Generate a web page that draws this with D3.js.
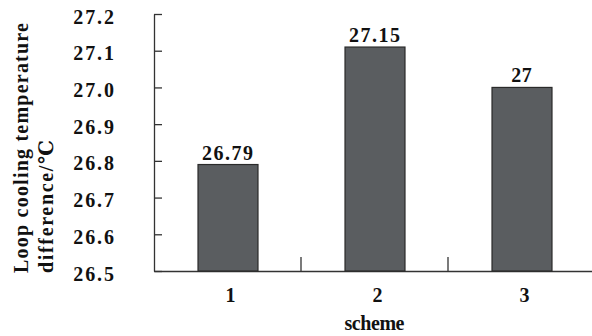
<!DOCTYPE html>
<html>
<head>
<meta charset="utf-8">
<script src="https://cdn.jsdelivr.net/npm/d3@7"></script>
<style>
  body { margin: 0; background: #fff; }
  text { font-family: "Liberation Serif", "DejaVu Serif", serif; font-weight: bold; fill: #111; }
</style>
</head>
<body>
<script>
const schemes = ["1", "2", "3"];
const barValues = [26.79, 27.11, 27.0];
const barLabels = ["26.79", "27.15", "27"];
const yTicks = [26.5, 26.6, 26.7, 26.8, 26.9, 27.0, 27.1, 27.2];

const width = 592, height = 336;
const margin = {top: 14, right: -3, bottom: 65, left: 154};
const charW = 10.2;

const svg = d3.select("body").append("svg")
    .attr("width", width)
    .attr("height", height);

const x = d3.scaleBand()
    .domain(schemes)
    .range([margin.left, width - margin.right])
    .paddingInner(0.592)
    .paddingOuter(0.296);

const y = d3.scaleLinear()
    .domain([26.5, 27.2])
    .range([height - margin.bottom, margin.top]);

// y axis, ticks pointing into the plot
const yAxis = svg.append("g")
    .attr("transform", "translate(" + margin.left + ",0)")
    .call(d3.axisLeft(y).tickValues(yTicks).tickSizeInner(-8).tickSizeOuter(0)
        .tickPadding(40).tickFormat(d3.format(".1f")));
yAxis.select(".domain").attr("stroke", "#333").attr("stroke-width", 1.3);
yAxis.selectAll(".tick line").attr("stroke", "#333").attr("stroke-width", 1.3);
yAxis.selectAll(".tick text")
    .attr("font-size", 20)
    .attr("dy", "0.45em")
    .attr("textLength", function() { return this.textContent.length * charW; })
    .attr("lengthAdjust", "spacing")
    .style("font-family", null);

// x axis
const xAxis = svg.append("g")
    .attr("transform", "translate(0," + y(26.5) + ")")
    .call(d3.axisBottom(x).tickSize(0).tickPadding(17));
xAxis.select(".domain").attr("stroke", "#333").attr("stroke-width", 1.3);
xAxis.selectAll(".tick text")
    .attr("font-size", 20)
    .attr("dx", 3)
    .style("font-family", null);

// separators between categories
svg.append("g")
  .selectAll("line")
  .data(schemes.slice(0, -1))
  .join("line")
    .attr("x1", d => x(d) + x.bandwidth() / 2 + x.step() / 2)
    .attr("x2", d => x(d) + x.bandwidth() / 2 + x.step() / 2)
    .attr("y1", y(26.5))
    .attr("y2", y(26.5) - 14)
    .attr("stroke", "#333")
    .attr("stroke-width", 1.3);

// bars
svg.append("g")
  .selectAll("rect")
  .data(barValues)
  .join("rect")
    .attr("x", (d, i) => x(schemes[i]) + 0.5)
    .attr("y", d => y(d))
    .attr("width", x.bandwidth())
    .attr("height", d => y(26.5) - y(d))
    .attr("fill", "#5a5d60")
    .attr("stroke", "#2a2a2a")
    .attr("stroke-width", 1.2);

// value labels
svg.append("g")
  .selectAll("text")
  .data(barValues)
  .join("text")
    .attr("x", (d, i) => x(schemes[i]) + x.bandwidth() / 2)
    .attr("y", d => y(d) - 5)
    .attr("text-anchor", "middle")
    .attr("font-size", 20)
    .attr("textLength", (d, i) => barLabels[i].length * charW)
    .attr("lengthAdjust", "spacing")
    .text((d, i) => barLabels[i]);

// axis titles
svg.append("text")
    .attr("x", (margin.left + width - margin.right) / 2)
    .attr("y", 330)
    .attr("text-anchor", "middle")
    .attr("font-size", 20)
    .attr("textLength", 60)
    .attr("lengthAdjust", "spacing")
    .text("scheme");

const yTitle = ["Loop cooling temperature", "difference/℃"];
svg.append("g")
    .attr("transform", "translate(0,273) rotate(-90)")
  .selectAll("text")
  .data(yTitle)
  .join("text")
    .attr("x", 0)
    .attr("y", (d, i) => 28 + i * 25)
    .attr("font-size", 20)
    .attr("textLength", d => d === yTitle[0] ? 250 : 133)
    .attr("lengthAdjust", "spacing")
    .text(d => d);
</script>
</body>
</html>
